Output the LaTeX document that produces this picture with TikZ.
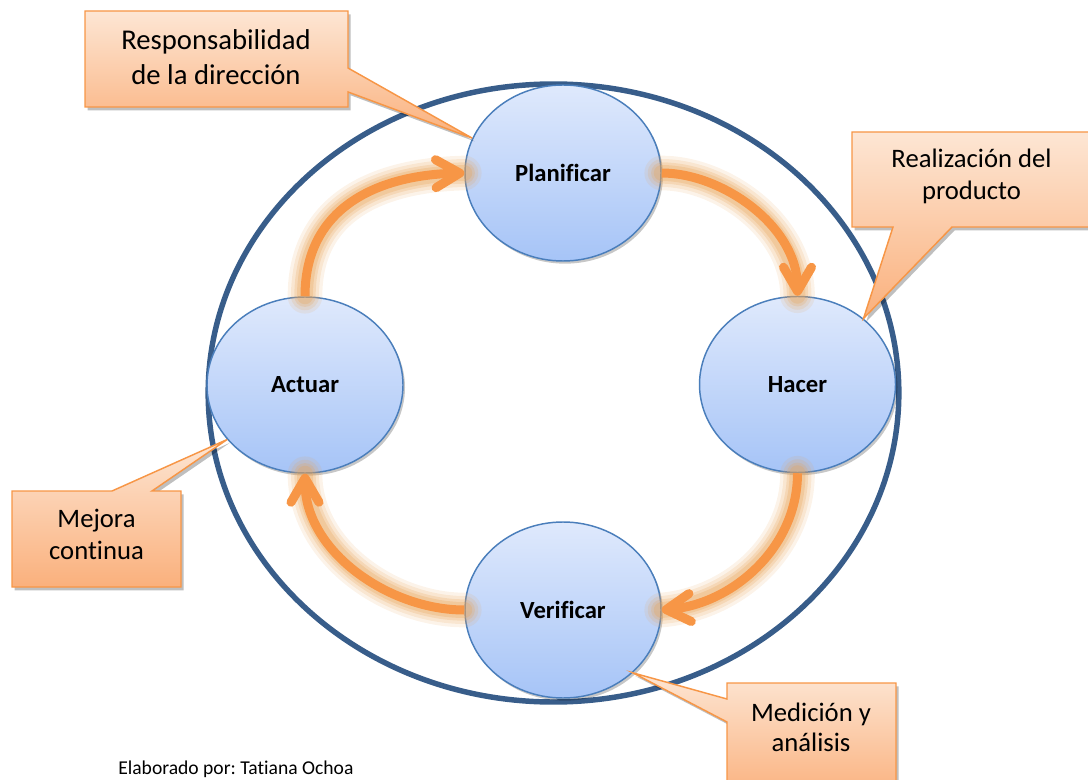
\documentclass[tikz,border=0pt]{standalone}
\usepackage{fontspec}
\setmainfont{Carlito}[Ligatures=NoCommon]
\usetikzlibrary{arrows.meta,shapes.geometric,shadows}
\frenchspacing

\definecolor{ringblue}{HTML}{385D8A}
\definecolor{circedge}{HTML}{4A7EBB}
\definecolor{circtop}{HTML}{DFE9FC}
\definecolor{circbot}{HTML}{A6C4F7}
\definecolor{calltop}{HTML}{FDE6D4}
\definecolor{callbot}{HTML}{FAB07C}
\definecolor{calledge}{HTML}{F79646}
\definecolor{flow}{HTML}{F79646}
\definecolor{glowc}{HTML}{E8A458}

\begin{document}
\begin{tikzpicture}[x=0.75pt,y=-0.75pt,
  stage/.style={ellipse, draw=circedge, line width=1.1pt,
    top color=circtop, bottom color=circbot,
    minimum width=147pt, minimum height=132pt, inner sep=0pt,
    font=\fontsize{18.5}{22}\selectfont\bfseries,
    drop shadow={shadow xshift=1.5pt, shadow yshift=-2pt, opacity=0.22, fill=black}},
  balloon/.style={draw=calledge, line width=1.1pt, line join=miter,
    top color=calltop, bottom color=callbot,
    drop shadow={shadow xshift=2pt, shadow yshift=-2.5pt, opacity=0.25, fill=black}},
  balloontext/.style={align=center, inner sep=0pt},
  glowline/.style={draw=glowc, line width=#1, line cap=round, -},
  flowarrow/.style={draw=flow, line width=6.75pt, line cap=butt,
    -{Straight Barb[length=18pt,width=21pt,round]},
    preaction={glowline=26pt, opacity=0.13},
    preaction={glowline=21pt, opacity=0.17},
    preaction={glowline=16pt, opacity=0.22},
    preaction={glowline=12pt, opacity=0.28}}
]
\useasboundingbox (0,0) rectangle (1088,780);

% outer ring of the cycle
\node[ellipse, draw=ringblue, line width=4.1pt, minimum width=518pt,
      minimum height=463.5pt, inner sep=0pt] (ring) at (553.5,393) {};

% the four stages
\node[stage] (plan)  at (563,173)   {Planificar};
\node[stage] (hacer) at (797.5,384.5) {Hacer};
\node[stage] (act)   at (305,385)   {Actuar};
\node[stage] (ver)   at (563,610)   {Verificar};

% cycle arrows
\draw[flowarrow] (plan.east)  .. controls +(60,0)  and +(0,-70) .. (hacer.north);
\draw[flowarrow] (hacer.south) .. controls +(0,75) and +(70,-6) .. (ver.east);
\draw[flowarrow] (ver.west)   .. controls +(-75,0) and +(0,78)  .. (act.south);
\draw[flowarrow] (act.north)  .. controls +(0,-90) and +(-85,2) .. (plan.west);

% callouts
\coordinate (t1) at (plan.159);
\coordinate (t2) at (hacer.45);
\coordinate (t3) at (act.215);
\coordinate (t4) at (ver.-42);

\path[balloon] (85,11) -- (348,11) -- (348,68) -- (t1) -- (348,92)
  -- (348,107) -- (85,107) -- cycle;
\node[balloontext, font=\fontsize{21.5}{26}\selectfont] (c1) at (216,57)
  {Responsabilidad\\de la dirección};

\path[balloon] (852,132) -- (1100,132) -- (1100,227) -- (952,227) -- (t2)
  -- (893,227) -- (852,227) -- cycle;
\node[balloontext, font=\fontsize{20}{24.5}\selectfont] (c2) at (971.5,176.5)
  {Realización del\\producto};

\path[balloon] (12,491) -- (112,491) -- (t3) -- (152,491) -- (181,491)
  -- (181,587) -- (12,587) -- cycle;
\node[balloontext, font=\fontsize{20}{23.5}\selectfont] (c3) at (96.5,534.5)
  {Mejora\\continua};

\path[balloon] (727,683) -- (896,683) -- (896,800) -- (727,800) -- (727,722)
  -- (t4) -- (727,699) -- cycle;
\node[balloontext, font=\fontsize{20}{23}\selectfont] (c4) at (811,727.5)
  {Medición y\\análisis};

% author line
\node[anchor=base west, inner sep=0pt, font=\fontsize{14.7}{18}\selectfont]
  (credit) at (118,774.5) {Elaborado por: Tatiana Ochoa};
\end{tikzpicture}
\end{document}
